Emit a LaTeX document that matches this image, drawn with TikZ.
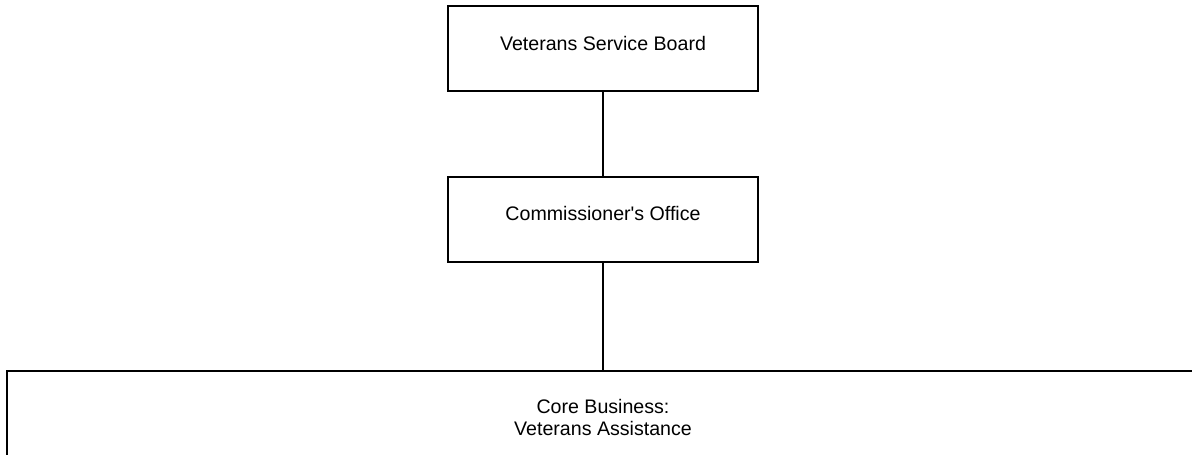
\documentclass[tikz,border=0pt]{standalone}
\usepackage{fontspec}
\setmainfont{Liberation Sans}
\begin{document}
\begin{tikzpicture}[x=1pt,y=-1pt,
  box/.style={draw=black, line width=1.6pt, minimum width=310pt, minimum height=85pt, inner sep=0pt, fill=white},
  lbl/.style={font=\fontsize{19.6}{22}\selectfont, align=center, inner sep=0pt},
  link/.style={draw=black, line width=1.6pt}]
\useasboundingbox (0,0) rectangle (1192,455);
\clip (0,0) rectangle (1192,455);
\node[box] (vsb) at (603,48.5) {};
\node[box] (co) at (603,219.5) {};
\node[box, minimum width=1203pt, minimum height=109pt] (core) at (608.5,425.5) {};
\draw[link] (vsb.south) -- (co.north);
\draw[link] (co.south) -- (co.south |- core.north);
\node[lbl] (t1) at (603,43) {Veterans Service Board};
\node[lbl] (t2) at (603,213) {Commissioner\textquotesingle s Office};
\node[lbl] (t3) at (603,417) {Core Business:\\Veterans Assistance};
\end{tikzpicture}
\end{document}
